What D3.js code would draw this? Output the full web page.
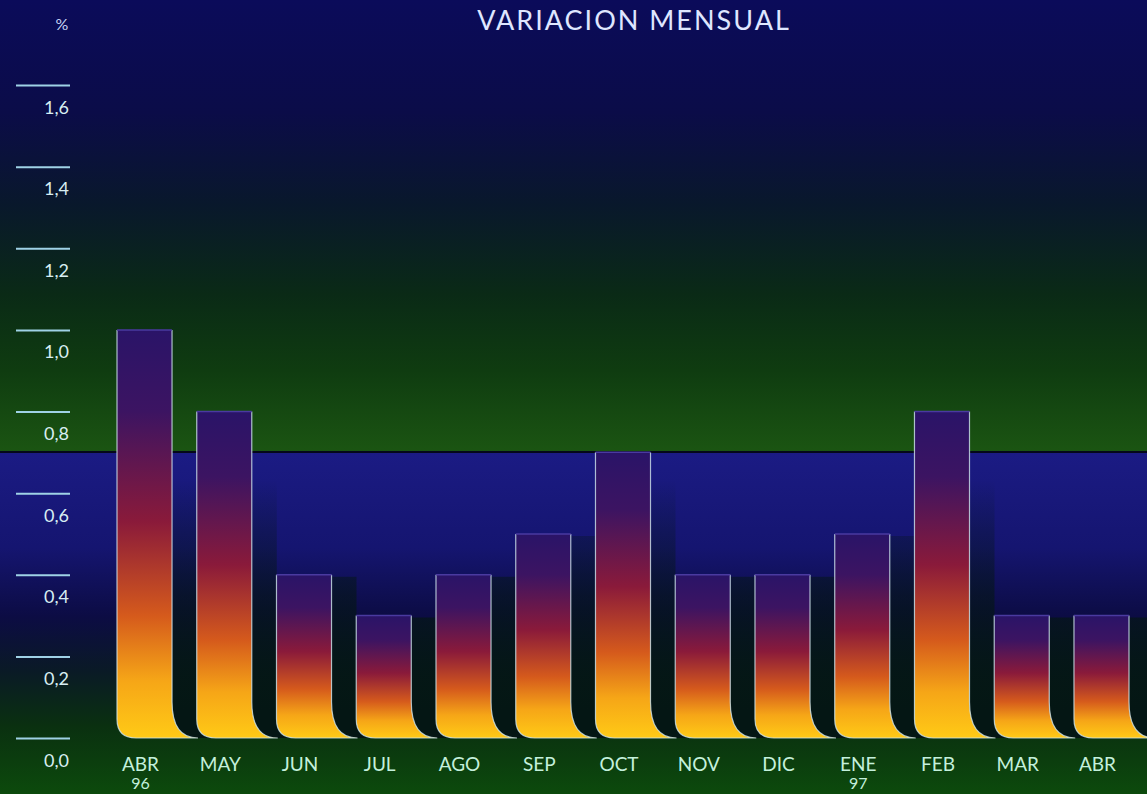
<!DOCTYPE html>
<html>
<head>
<meta charset="utf-8">
<script src="https://cdn.jsdelivr.net/npm/d3@7"></script>
<style>
  html, body { margin: 0; padding: 0; background: #0a0a40; }
  svg { display: block; }
</style>
</head>
<body>
<script>
// ---- data ----
const months = ["ABR", "MAY", "JUN", "JUL", "AGO", "SEP", "OCT", "NOV", "DIC", "ENE", "FEB", "MAR", "ABR"];
const years  = ["96", "", "", "", "", "", "", "", "", "97", "", "", ""];
const values = [1.0, 0.8, 0.4, 0.3, 0.4, 0.5, 0.7, 0.4, 0.4, 0.5, 0.8, 0.3, 0.3];
const yTicks = [0, 0.2, 0.4, 0.6, 0.8, 1.0, 1.2, 1.4, 1.6];
const title = "VARIACION MENSUAL";
const unit = "%";

const W = 1147, H = 794;
const svg = d3.select("body").append("svg").attr("width", W).attr("height", H);
const defs = svg.append("defs");

// backgrounds
const bgTop = defs.append("linearGradient").attr("id", "bgTop")
  .attr("x1", 0).attr("y1", 0).attr("x2", 0).attr("y2", 1);
[[0, "#0b0b5a"], [0.25, "#0b0c48"], [0.45, "#09182c"], [0.65, "#0a2a16"], [0.82, "#0f3c10"], [1, "#1b5512"]]
  .forEach(([o, c]) => bgTop.append("stop").attr("offset", o).attr("stop-color", c));

const bgBot = defs.append("linearGradient").attr("id", "bgBot")
  .attr("x1", 0).attr("y1", 0).attr("x2", 0).attr("y2", 1);
[[0, "#1b1b84"], [0.28, "#151570"], [0.48, "#0c0c44"], [0.64, "#0a1a26"], [0.8, "#0a3010"], [1, "#0c4a0c"]]
  .forEach(([o, c]) => bgBot.append("stop").attr("offset", o).attr("stop-color", c));

// bar gradient
const barG = defs.append("linearGradient").attr("id", "barG")
  .attr("x1", 0).attr("y1", 0).attr("x2", 0).attr("y2", 1);
[[0, "#2a1468"], [0.2, "#3c1462"], [0.47, "#8a1a3a"], [0.7, "#d55a1c"], [0.86, "#f6a617"], [1, "#ffca16"]]
  .forEach(([o, c]) => barG.append("stop").attr("offset", o).attr("stop-color", c));

// shadow gradient
const shG = defs.append("linearGradient").attr("id", "shG")
  .attr("gradientUnits", "userSpaceOnUse")
  .attr("x1", 0).attr("y1", 480).attr("x2", 0).attr("y2", 710);
[[0, 0], [0.5, 0.6], [1, 1]]
  .forEach(([o, a]) => shG.append("stop").attr("offset", o).attr("stop-color", "#041614").attr("stop-opacity", a));

const split = 452;
svg.append("rect").attr("x", 0).attr("y", 0).attr("width", W).attr("height", split).attr("fill", "url(#bgTop)");
svg.append("rect").attr("x", 0).attr("y", split).attr("width", W).attr("height", H - split).attr("fill", "url(#bgBot)");
svg.append("line").attr("x1", 0).attr("x2", W).attr("y1", split).attr("y2", split)
  .attr("stroke", "#05081a").attr("stroke-width", 2);

// scales
const y = d3.scaleLinear().domain([0, 1.6]).range([738, 85]);
const x = d3.scaleBand().domain(d3.range(months.length)).range([117, 1129])
  .paddingInner(0.31).paddingOuter(0);

// y axis
const yAxis = d3.axisLeft(y).tickValues(yTicks).tickSize(54).tickPadding(0)
  .tickFormat(d => d3.format(".1f")(d).replace(".", ","));
const gy = svg.append("g").attr("transform", "translate(70,0)").call(yAxis);
gy.select(".domain").remove();
gy.selectAll(".tick line").attr("stroke", "#9fd2e6").attr("stroke-width", 2);
gy.selectAll(".tick text")
  .attr("x", -1).attr("dy", 0).attr("y", 28)
  .attr("text-anchor", "end")
  .attr("fill", "#d8eef2")
  .attr("font-family", "Lato, 'Open Sans', sans-serif")
  .attr("font-size", 18);

svg.append("text").attr("x", 62).attr("y", 30).attr("text-anchor", "middle")
  .attr("fill", "#c8d4f4").attr("font-family", "Lato, sans-serif").attr("font-size", 16).text(unit);

svg.append("text").attr("x", 634).attr("y", 30).attr("text-anchor", "middle")
  .attr("fill", "#dfe6ff").attr("font-family", "Lato, sans-serif").attr("font-size", 27)
  .attr("letter-spacing", 2).text(title);

// bars
const r1 = 19, fx = 26, fy = 36;
function barPath(x0, x1, yt, yb) {
  return `M${x0},${yt} L${x1},${yt} L${x1},${yb - fy} Q${x1},${yb} ${x1 + fx},${yb} ` +
         `L${x0 + r1},${yb} Q${x0},${yb} ${x0},${yb - r1} Z`;
}
function edgePath(x0, x1, yt, yb) {
  return `M${x1},${yt} L${x1},${yb - fy} Q${x1},${yb} ${x1 + fx},${yb} ` +
         `L${x0 + r1},${yb} Q${x0},${yb} ${x0},${yb - r1} L${x0},${yt}`;
}
const data = values.map((v, i) => ({ i, v }));
const yb = y(0), sdx = 25;

svg.append("g").selectAll("path").data(data).join("path")
  .attr("d", d => barPath(x(d.i) + sdx, x(d.i) + x.bandwidth() + sdx, y(d.v) + 2, yb))
  .attr("fill", "url(#shG)");

svg.append("g").selectAll("path").data(data).join("path")
  .attr("d", d => barPath(x(d.i), x(d.i) + x.bandwidth(), y(d.v), yb))
  .attr("fill", "url(#barG)");

svg.append("g").selectAll("path").data(data).join("path")
  .attr("d", d => edgePath(x(d.i), x(d.i) + x.bandwidth(), y(d.v), yb))
  .attr("fill", "none").attr("stroke", "#cfe6ee").attr("stroke-width", 1.2).attr("stroke-opacity", 0.8);

svg.append("g").selectAll("line").data(data).join("line")
  .attr("x1", d => x(d.i)).attr("x2", d => x(d.i) + x.bandwidth())
  .attr("y1", d => y(d.v)).attr("y2", d => y(d.v))
  .attr("stroke", "#4a3aa0").attr("stroke-width", 1.5);

// x labels
const lab = svg.append("g").attr("font-family", "Lato, 'Open Sans', sans-serif")
  .attr("font-size", 19).attr("fill", "#c4f0dc").attr("text-anchor", "middle");
lab.selectAll("text.m").data(data).join("text").attr("class", "m")
  .attr("x", d => x(d.i) + x.bandwidth() / 2 - 4).attr("y", 771).text(d => months[d.i]);
lab.selectAll("text.yr").data(data.filter(d => years[d.i])).join("text").attr("class", "yr")
  .attr("x", d => x(d.i) + x.bandwidth() / 2 - 4).attr("y", 789).attr("font-size", 16).text(d => years[d.i]);
</script>
</body>
</html>
